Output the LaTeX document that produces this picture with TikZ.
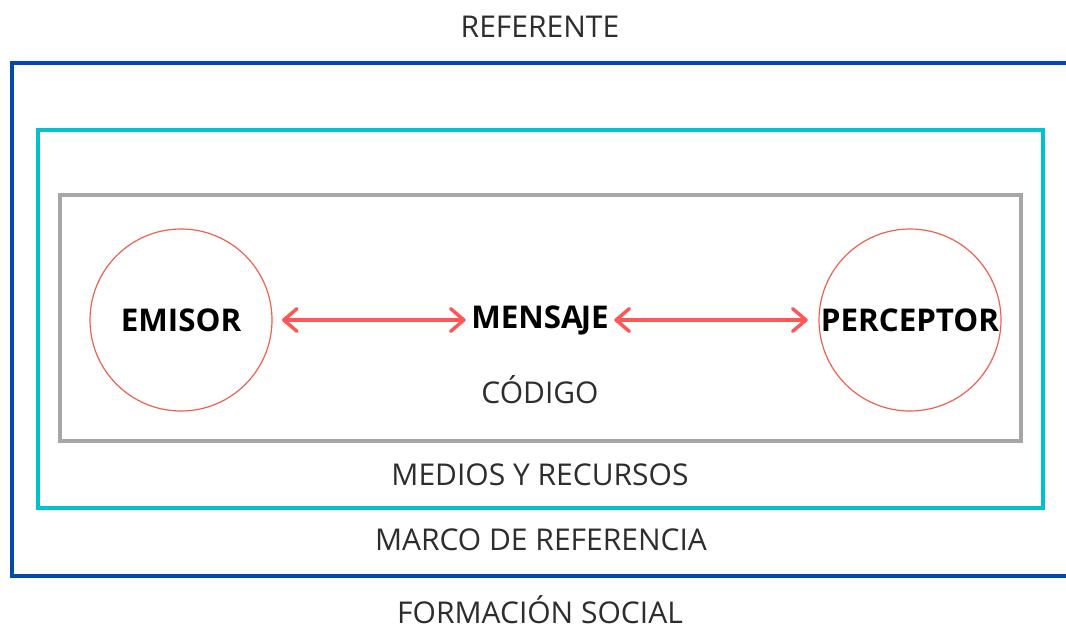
\documentclass[tikz,border=0pt]{standalone}
\usepackage{fontspec}
\setmainfont{Open Sans}
\usetikzlibrary{arrows.meta,positioning}
\definecolor{frameblue}{RGB}{0,74,173}
\definecolor{framecyan}{RGB}{0,194,203}
\definecolor{framegray}{RGB}{166,166,166}
\definecolor{linkred}{RGB}{255,87,87}
\definecolor{ringred}{RGB}{240,96,80}
\definecolor{softtext}{RGB}{45,45,45}

\begin{document}
\begin{tikzpicture}[x=0.75pt, y=-0.75pt,
            frame/.style={line width=3pt},
            ring/.style={circle, draw=ringred, line width=0.9pt, minimum size=136.5pt, inner sep=0pt},
            actor/.style={font=\fontsize{23.5}{26}\selectfont\bfseries, inner sep=3pt},
            level/.style={font=\fontsize{22.5}{26}\selectfont, text=softtext, inner sep=0pt},
            link/.style={{Straight Barb[round,length=10pt,width=17pt]}-{Straight Barb[round,length=10pt,width=17pt]}, line width=2.6pt, linkred, line cap=round}
        ]
        \useasboundingbox (0,0) rectangle (1066,629);

        % Marcos
        \draw[frame, frameblue] (12,63) rectangle (1080,576);
        \draw[frame, framecyan] (38,130) rectangle (1043,508);
        \draw[frame, framegray] (60,195) rectangle (1021,441);

        \node[level] (referente) at (540,27) {REFERENTE};
        \node[level] (codigo) at (540,390) {CÓDIGO};
        \node[level] (medios) at (540,475) {MEDIOS Y RECURSOS};
        \node[level] (marco) at (541,540) {MARCO DE REFERENCIA};
        \node[level] (formacion) at (540,610) {FORMACIÓN SOCIAL};

        \node[ring] (emisor) at (181,320) {};
        \node[ring] (perceptor) at (910,320) {};
        \node[actor] at (emisor) {EMISOR};
        \node[actor] at (perceptor) {PERCEPTOR};
        \node[actor] (mensaje) at (540,320) {MENSA\kern-1.5pt JE};

        \draw[link, shorten <=7pt, shorten >=1pt] (emisor.east) -- (mensaje.west);
        \draw[link, shorten <=1pt, shorten >=8pt] (mensaje.east) -- (perceptor.west);
\end{tikzpicture}
\end{document}
